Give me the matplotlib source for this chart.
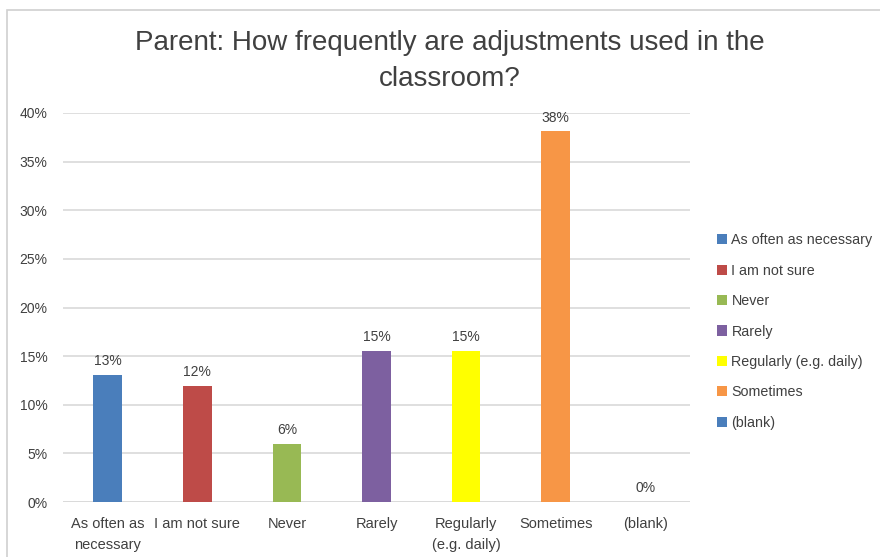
import matplotlib
matplotlib.use("Agg")
import matplotlib.pyplot as plt
from matplotlib.patches import Rectangle, Patch

# data
categories = ["As often as necessary", "I am not sure", "Never", "Rarely",
              "Regularly (e.g. daily)", "Sometimes", "(blank)"]
tick_labels = ["As often as\nnecessary", "I am not sure", "Never", "Rarely",
               "Regularly\n(e.g. daily)", "Sometimes", "(blank)"]
values = [0.131, 0.119, 0.0595, 0.155, 0.155, 0.381, 0.0]
bar_labels = ["13%", "12%", "6%", "15%", "15%", "38%", "0%"]
colors = ["#4a7ebb", "#be4b48", "#98b954", "#7d60a0", "#ffff00", "#f79646", "#4a7ebb"]

plt.rcParams['font.family'] = ['Liberation Sans', 'DejaVu Sans']
text_col = "#404040"

fig = plt.figure(figsize=(8.8, 5.57), dpi=100)
fig.patches.append(Rectangle((7 / 880, -0.05), 1.0, 1 - 10 / 557 + 0.05,
                             transform=fig.transFigure, fill=False,
                             edgecolor="#d0d0d0", linewidth=1.2))
ax = fig.add_axes([63 / 880, 1 - 502 / 557, (690 - 63) / 880, (502 - 113) / 557])

x = range(len(values))
ax.bar(x, values, width=0.32, color=colors, zorder=3)
for i, (v, lab) in enumerate(zip(values, bar_labels)):
    ax.text(i, v + 0.007, lab, ha="center", va="bottom", fontsize=10, color=text_col)

ax.set_xlim(-0.5, len(values) - 0.5)
ax.set_ylim(0, 0.4)
ax.set_yticks([i * 0.05 for i in range(9)])
ax.set_yticklabels([f"{i * 5}%" for i in range(9)], fontsize=10, color=text_col)
ax.set_xticks(list(x))
ax.set_xticklabels(tick_labels, fontsize=10.5, color=text_col, linespacing=1.6)
ax.tick_params(axis="both", length=0)
ax.tick_params(axis="x", pad=11)
ax.tick_params(axis="y", pad=11)
ax.yaxis.grid(True, color="#d9d9d9", linewidth=1.2, zorder=0)
for s in ax.spines.values():
    s.set_visible(False)
ax.axhline(0, color="#d9d9d9", linewidth=1.2, zorder=1)

fig.text(450 / 880, 1 - 61 / 557, "Parent: How frequently are adjustments used in the\nclassroom?",
         ha="center", va="center", fontsize=20, color=text_col, linespacing=1.5,
         family=['Liberation Sans Narrow', 'Liberation Sans', 'DejaVu Sans'])

handles = [Patch(facecolor=c) for c in colors]
fig.legend(handles, categories, loc="upper left", bbox_to_anchor=(710 / 880, 1 - 226 / 557),
           frameon=False, fontsize=10.3, labelcolor=text_col, handlelength=0.7,
           handleheight=0.7, handletextpad=0.3, labelspacing=1.15, borderpad=0)

fig.savefig("out.png", dpi=100)
